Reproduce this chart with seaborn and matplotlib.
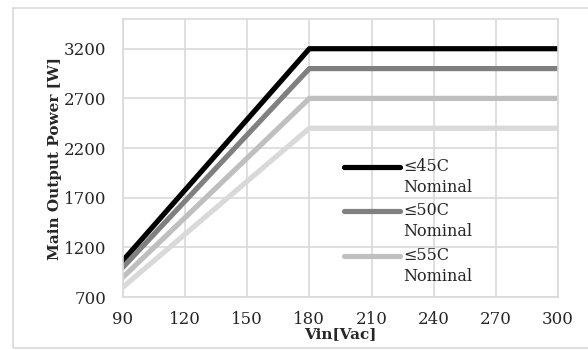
import pandas as pd
import matplotlib
matplotlib.use("Agg")
import matplotlib.pyplot as plt
import seaborn as sns
from matplotlib.lines import Line2D
from matplotlib.patches import Rectangle
from matplotlib.legend_handler import HandlerLine2D

# Derating curves
vin = [90, 180, 300]
p_45c = [1067, 3200, 3200]
p_50c = [1000, 3000, 3000]
p_55c = [900, 2700, 2700]
p_60c = [800, 2400, 2400]
series_names = ["≤45C\nNominal", "≤50C\nNominal", "≤55C\nNominal", "≤60C\nNominal"]
x_ticks = [90, 120, 150, 180, 210, 240, 270, 300]
y_ticks = [700, 1200, 1700, 2200, 2700, 3200]

colors = ["#000000", "#808080", "#bfbfbf", "#d9d9d9"]

LEG_FS = 11.5


class TopLineHandler(HandlerLine2D):
    """Put the legend line level with the first text line, like Excel does."""
    def create_artists(self, legend, orig_handle, xdescent, ydescent,
                       width, height, fontsize, trans):
        arts = super().create_artists(legend, orig_handle, xdescent, ydescent,
                                      width, height, fontsize, trans)
        for a in arts:
            a.set_ydata([y + 0.68 * fontsize for y in a.get_ydata()])
        return arts


frames = []
for name, vals in zip(series_names, [p_45c, p_50c, p_55c, p_60c]):
    frames.append(pd.DataFrame({"Vin": vin, "Power": vals, "Series": name}))
df = pd.concat(frames, ignore_index=True)

sns.set_style("white")
plt.rcParams["font.family"] = ["DejaVu Serif"]

fig = plt.figure(figsize=(5.88, 3.5), dpi=100)
ax = fig.add_axes([0.209, 0.151, 0.740, 0.795])

# outer chart-area frame (runs off the right edge like the original)
fig.patches.append(Rectangle((13 / 588, 2 / 350), 1.2, 1 - 10 / 350,
                             transform=fig.transFigure, fill=False,
                             edgecolor="#d9d9d9", linewidth=1.2))

sns.lineplot(data=df, x="Vin", y="Power", hue="Series", palette=colors,
             hue_order=series_names, linewidth=3.75, legend=False, ax=ax)

ax.set_xlim(90, 300)
ax.set_ylim(700, 3500)
ax.set_xticks(x_ticks)
ax.set_yticks(y_ticks)
ax.tick_params(axis="y", labelsize=12, length=0, pad=12)
ax.tick_params(axis="x", labelsize=12, length=0, pad=10)
ax.grid(True, color="#d9d9d9", linewidth=1.2)
for s in ax.spines.values():
    s.set_color("#d9d9d9")
    s.set_linewidth(1.2)

ax.set_xlabel("Vin[Vac]", fontsize=11, fontweight="bold", labelpad=-1)
ax.yaxis.set_label_coords(-0.14, 0.5)
ax.set_ylabel("Main Output Power [W]", fontsize=11, fontweight="bold")

handles = [Line2D([0], [0], color=c, linewidth=3.75) for c in colors[:3]]
leg = ax.legend(handles, series_names[:3], loc="upper left",
                bbox_to_anchor=(0.49, 0.53), frameon=False, fontsize=LEG_FS,
                handlelength=3.5, handletextpad=0.2, labelspacing=0.42,
                borderpad=0, handler_map={Line2D: TopLineHandler()})
for t in leg.get_texts():
    t.set_linespacing(1.3)

fig.savefig("out.png", dpi=100)
